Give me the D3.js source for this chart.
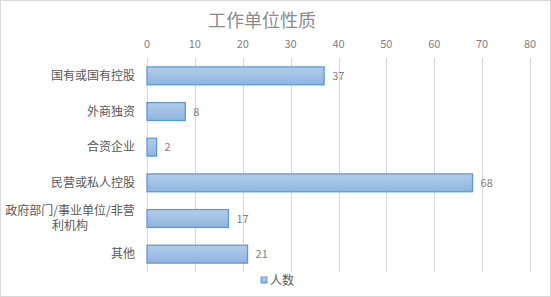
<!DOCTYPE html>
<html>
<head>
<meta charset="utf-8">
<script src="https://d3js.org/d3.v7.min.js"></script>
<style>
  body { margin: 0; background: #fff; }
  text { font-family: "Noto Sans CJK SC", "Microsoft YaHei", sans-serif; }
</style>
</head>
<body>
<script>
// chart data
const categories = ["国有或国有控股", "外商独资", "合资企业", "民营或私人控股", "政府部门/事业单位/非营利机构", "其他"];
const counts = [37, 8, 2, 68, 17, 21];
const ticks = [0, 10, 20, 30, 40, 50, 60, 70, 80];
const seriesName = "人数";
const title = "工作单位性质";

const width = 551, height = 297;
const svg = d3.select("body").append("svg")
  .attr("width", width)
  .attr("height", height);

// outer border
svg.append("rect")
  .attr("x", 0.5).attr("y", 0.5)
  .attr("width", width - 1).attr("height", height - 1)
  .attr("fill", "#fff")
  .attr("stroke", "#d9d9d9");

const defs = svg.append("defs");
const grad = defs.append("linearGradient")
  .attr("id", "barGrad")
  .attr("x1", 0).attr("y1", 0).attr("x2", 0).attr("y2", 1);
grad.append("stop").attr("offset", "0%").attr("stop-color", "#b3cdea");
grad.append("stop").attr("offset", "100%").attr("stop-color", "#8fb4e1");

const x = d3.scaleLinear().domain([0, 80]).range([147, 530]);
const y = d3.scaleBand().domain(categories).range([58, 272]).paddingInner(0.5).paddingOuter(0.25);

// title
svg.append("text")
  .attr("x", 262).attr("y", 27)
  .attr("text-anchor", "middle")
  .style("font-size", "18px")
  .style("fill", "#8c8c8c")
  .text(title);

// gridlines
svg.append("g").selectAll("line")
  .data(ticks)
  .join("line")
  .attr("x1", d => Math.round(x(d)) + 0.5)
  .attr("x2", d => Math.round(x(d)) + 0.5)
  .attr("y1", 58).attr("y2", 272)
  .attr("stroke", "#d9d9d9");

// top axis labels
svg.append("g").selectAll("text")
  .data(ticks)
  .join("text")
  .attr("x", d => x(d))
  .attr("y", 48)
  .attr("text-anchor", "middle")
  .style("font-size", "11px")
  .style("fill", "#7f7f7f")
  .text(d => d);

// bars
svg.append("g").selectAll("rect")
  .data(categories)
  .join("rect")
  .attr("x", x(0))
  .attr("y", d => y(d))
  .attr("width", (d, i) => x(counts[i]) - x(0))
  .attr("height", y.bandwidth())
  .attr("fill", "url(#barGrad)")
  .attr("stroke", "#5b9bd5")
  .attr("stroke-width", 1.3);

// value labels
svg.append("g").selectAll("text")
  .data(categories)
  .join("text")
  .attr("x", (d, i) => x(counts[i]) + 8)
  .attr("y", d => y(d) + y.bandwidth() / 2 + 4)
  .style("font-size", "11px")
  .style("fill", "#7f7f7f")
  .text((d, i) => counts[i]);

// category labels (wrap long one like Excel)
const catG = svg.append("g");
categories.forEach(c => {
  const cy = y(c) + y.bandwidth() / 2;
  const lines = c.length > 10 ? [c.slice(0, 12), c.slice(12)] : [c];
  const t = catG.append("text")
    .attr("text-anchor", lines.length > 1 ? "middle" : "end")
    .style("font-size", "12px")
    .style("fill", "#595959");
  lines.forEach((l, k) => {
    t.append("tspan")
      .attr("x", lines.length > 1 ? 70 : 135)
      .attr("y", cy + 4 + (k - (lines.length - 1) / 2) * 15)
      .text(l);
  });
});

// legend
svg.append("rect")
  .attr("x", 261).attr("y", 277)
  .attr("width", 6).attr("height", 6)
  .attr("fill", "url(#barGrad)")
  .attr("stroke", "#5b9bd5");
svg.append("text")
  .attr("x", 270).attr("y", 285)
  .style("font-size", "12px")
  .style("fill", "#595959")
  .text(seriesName);
</script>
</body>
</html>
